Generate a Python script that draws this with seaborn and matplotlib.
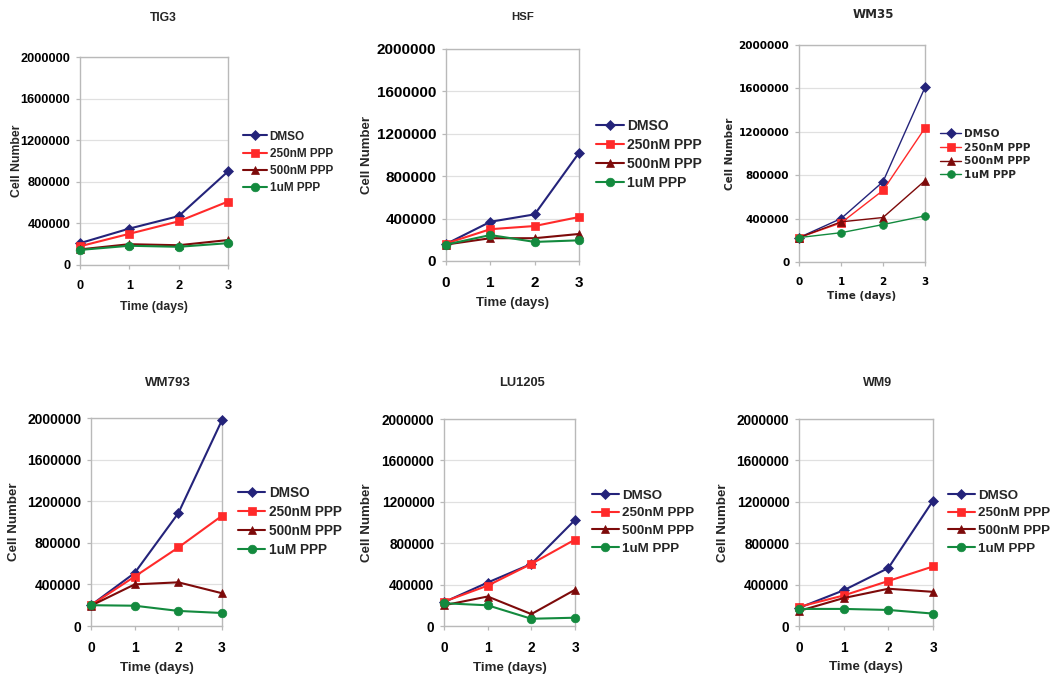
import numpy as np
import pandas as pd
import matplotlib
matplotlib.use("Agg")
import matplotlib.pyplot as plt
from matplotlib.ticker import FixedLocator
import seaborn as sns

# ---------------- data ----------------
days = [0, 1, 2, 3]
treatments = ["DMSO", "250nM PPP", "500nM PPP", "1uM PPP"]
cell_lines = ["TIG3", "HSF", "WM35", "WM793", "LU1205", "WM9"]

tig3_dmso = [210000, 350000, 470000, 900000]
tig3_250 = [180000, 300000, 420000, 610000]
tig3_500 = [150000, 200000, 190000, 240000]
tig3_1um = [145000, 185000, 175000, 210000]

hsf_dmso = [160000, 370000, 440000, 1020000]
hsf_250 = [165000, 300000, 330000, 415000]
hsf_500 = [155000, 215000, 215000, 255000]
hsf_1um = [155000, 245000, 180000, 195000]

wm35_dmso = [225000, 400000, 740000, 1610000]
wm35_250 = [225000, 360000, 660000, 1235000]
wm35_500 = [225000, 370000, 410000, 750000]
wm35_1um = [225000, 270000, 345000, 425000]

wm793_dmso = [200000, 510000, 1085000, 1980000]
wm793_250 = [200000, 475000, 755000, 1060000]
wm793_500 = [195000, 400000, 420000, 315000]
wm793_1um = [200000, 195000, 145000, 125000]

lu1205_dmso = [230000, 420000, 600000, 1025000]
lu1205_250 = [235000, 390000, 600000, 835000]
lu1205_500 = [200000, 285000, 115000, 350000]
lu1205_1um = [220000, 200000, 70000, 80000]

wm9_dmso = [175000, 345000, 560000, 1210000]
wm9_250 = [185000, 295000, 435000, 575000]
wm9_500 = [145000, 270000, 360000, 330000]
wm9_1um = [165000, 165000, 155000, 120000]

y_ticks = [0, 400000, 800000, 1200000, 1600000, 2000000]
y_tick_labels = ["0", "400000", "800000", "1200000", "1600000", "2000000"]
x_label = "Time (days)"
y_label = "Cell Number"

series = {
    "TIG3": [tig3_dmso, tig3_250, tig3_500, tig3_1um],
    "HSF": [hsf_dmso, hsf_250, hsf_500, hsf_1um],
    "WM35": [wm35_dmso, wm35_250, wm35_500, wm35_1um],
    "WM793": [wm793_dmso, wm793_250, wm793_500, wm793_1um],
    "LU1205": [lu1205_dmso, lu1205_250, lu1205_500, lu1205_1um],
    "WM9": [wm9_dmso, wm9_250, wm9_500, wm9_1um],
}

# ---------------- style ----------------
colors = ["#24237a", "#ff2a2a", "#7d0a0a", "#138a3e"]
markers = ["D", "s", "^", "o"]
msizes = [5.5, 6.2, 6.2, 6.2]

W, H = 1050, 690
layout = {
    "TIG3": dict(px=(80, 57, 228, 265), title=(163, 18), fam="Liberation Sans",
                 tick=9.2, lab=8.8, leg=8.5, tit=8.7, ylab_x=17, xlab_y=307,
                 leg_xy=(243, 162.5), leg_sp=0.45, lw=1.5, msc=1.0),
    "HSF": dict(px=(446, 49, 579, 261), title=(523, 17), fam="Liberation Sans",
                tick=11, lab=9.5, leg=10, tit=8.2, ylab_x=367, xlab_y=303,
                leg_xy=(596, 154.5), leg_sp=0.35, lw=1.5, msc=1.0),
    "WM35": dict(px=(799, 45, 925, 262), title=(873, 14), fam="DejaVu Sans",
                 tick=7.5, lab=7.5, leg=7.6, tit=8.6, ylab_x=730, xlab_y=296,
                 leg_xy=(940, 154.5), leg_sp=0.35, lw=1.0, msc=0.9),
    "WM793": dict(px=(91, 418, 222, 626), title=(168, 383), fam="Liberation Sans",
                  tick=10, lab=9.6, leg=9.8, tit=9.5, ylab_x=14, xlab_y=668,
                  leg_xy=(238, 521.5), leg_sp=0.38, lw=1.5, msc=1.0),
    "LU1205": dict(px=(444, 419, 575, 626), title=(522, 383), fam="Liberation Sans",
                   tick=9.8, lab=9.6, leg=9.6, tit=9.3, ylab_x=367, xlab_y=668,
                   leg_xy=(592, 522), leg_sp=0.4, lw=1.5, msc=1.0),
    "WM9": dict(px=(799, 419, 933, 626), title=(878, 383), fam="Liberation Sans",
                tick=9.8, lab=9.6, leg=9.6, tit=9.0, ylab_x=723, xlab_y=667,
                leg_xy=(948, 522), leg_sp=0.4, lw=1.5, msc=1.0),
}

sns.set_theme(style="white")
plt.rcParams["font.family"] = ["Liberation Sans", "DejaVu Sans"]
plt.rcParams["font.weight"] = "bold"

fig = plt.figure(figsize=(W / 100, H / 100), dpi=100)
fig.patch.set_facecolor("white")

for name in cell_lines:
    L = layout[name]
    l, t, r, b = L["px"]
    ax = fig.add_axes([l / W, 1 - b / H, (r - l) / W, (b - t) / H])
    fam = L["fam"]
    for vals, lab, c, m, ms in zip(series[name], treatments, colors, markers, msizes):
        df = pd.DataFrame({"day": days, "cells": vals})
        sns.lineplot(data=df, x="day", y="cells", ax=ax, color=c, marker=m,
                     markersize=ms * L["msc"], markeredgecolor=c, markeredgewidth=0.5,
                     linewidth=L["lw"], label=lab, clip_on=False, zorder=3)
    ax.set_xlim(0, 3)
    ax.set_ylim(0, 2000000)
    ax.xaxis.set_major_locator(FixedLocator(days))
    ax.set_xticklabels([str(d) for d in days], fontfamily=fam, fontweight="bold",
                       fontsize=L["tick"])
    ax.yaxis.set_major_locator(FixedLocator(y_ticks))
    ax.set_yticklabels(y_tick_labels, fontfamily=fam, fontweight="bold",
                       fontsize=L["tick"])
    ax.grid(axis="y", color="#e0e0e0", linewidth=0.9, zorder=0)
    ax.grid(axis="x", visible=False)
    for sp in ax.spines.values():
        sp.set_color("#b9b9b9")
        sp.set_linewidth(1.0)
    ax.tick_params(axis="both", direction="out", length=3, width=0.9,
                   color="#b9b9b9")
    ax.tick_params(axis="y", pad=4, left=True)
    ax.tick_params(axis="x", pad=8, bottom=True)
    for tl in ax.get_xticklabels() + ax.get_yticklabels():
        tl.set_color("black")
    ax.set_ylabel(y_label, fontfamily=fam, fontweight="bold", fontsize=L["lab"],
                  va="center", ha="center")
    ax.set_xlabel(x_label, fontfamily=fam, fontweight="bold", fontsize=L["lab"],
                  va="center", ha="center")
    ax.yaxis.set_label_coords((L["ylab_x"] - l) / (r - l), 0.5)
    ax.xaxis.set_label_coords(0.5, -(L["xlab_y"] - b) / (b - t))
    fig.text(L["title"][0] / W, 1 - L["title"][1] / H, name, ha="center",
             va="center", fontfamily=fam, fontweight="bold", fontsize=L["tit"])
    lx, ly = L["leg_xy"]
    leg = ax.legend(loc="center left", bbox_to_anchor=(lx / W, 1 - ly / H),
                    bbox_transform=fig.transFigure, frameon=False, borderpad=0,
                    borderaxespad=0, handlelength=2.0, handletextpad=0.25,
                    labelspacing=L["leg_sp"],
                    prop=dict(family=fam, weight="bold", size=L["leg"]))
    for ln in leg.get_lines():
        ln.set_linewidth(L["lw"])

fig.savefig("out.png", dpi=100, facecolor="white")
